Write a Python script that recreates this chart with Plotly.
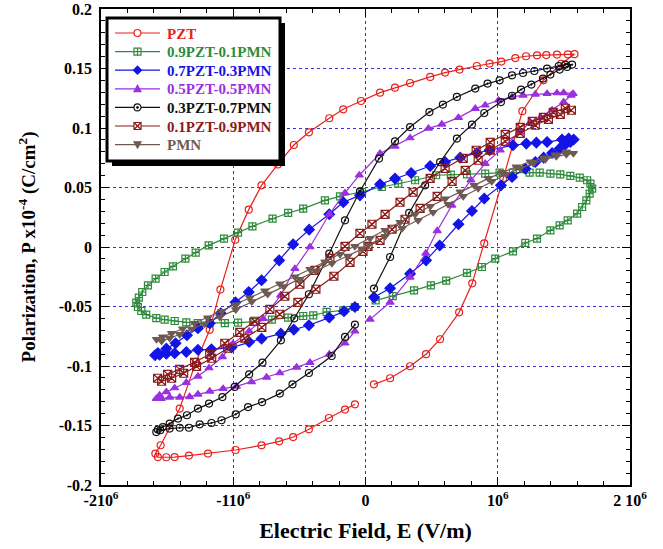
import numpy as np
import plotly.graph_objects as go

# Electric field in units of 1e6 V/m, polarization in (x1e-4 C/cm^2)
pzt_E = [0.064, 0.186, 0.337, 0.458, 0.564, 0.708, 0.807, 0.898, 1.042, 1.186, 1.345, 1.480, 1.580,
         1.530, 1.448, 1.367, 1.297, 1.214, 1.133, 1.027, 0.938, 0.842, 0.711, 0.602, 0.489, 0.337, 0.223,
         0.110, -0.034, -0.168, -0.274, -0.428, -0.542, -0.663, -0.786, -0.883, -0.985, -1.097, -1.178,
         -1.282, -1.405, -1.549, -1.589,
         -1.570, -1.506, -1.443, -1.335, -1.191, -0.983, -0.786, -0.653, -0.547, -0.428, -0.277, -0.155, -0.080]
pzt_P = [-0.1154, -0.1103, -0.1002, -0.0901, -0.0775, -0.0549, -0.0305, 0.0031, 0.0578, 0.1141, 0.1401, 0.1540, 0.1620,
         0.1619, 0.1617, 0.1613, 0.1611, 0.1603, 0.1588, 0.1558, 0.1541, 0.1521, 0.1491, 0.1466, 0.1429, 0.1378, 0.1339,
         0.1297, 0.1227, 0.1157, 0.1082, 0.0964, 0.0857, 0.0694, 0.0518, 0.0314, 0.0061, -0.0358, -0.0696,
         -0.0966, -0.1358, -0.1666, -0.1736,
         -0.1765, -0.1767, -0.1765, -0.1753, -0.1736, -0.1706, -0.1667, -0.1633, -0.1597, -0.1532, -0.1437, -0.1366, -0.1322]

pzt90_E = [0.077, 0.206, 0.367, 0.494, 0.610, 0.767, 0.880, 0.981, 1.115, 1.208, 1.297, 1.398, 1.468, 1.529, 1.600,
           1.638, 1.670, 1.695, 1.714, 1.701, 1.676, 1.620, 1.549, 1.473, 1.398, 1.317, 1.241, 1.115, 1.014, 0.905,
           0.767, 0.645, 0.534, 0.375, 0.248, 0.123, -0.027, -0.193, -0.307, -0.471, -0.585, -0.703, -0.855, -0.964,
           -1.070, -1.186, -1.284, -1.362, -1.456, -1.519, -1.587, -1.645, -1.688, -1.714, -1.733, -1.721, -1.695,
           -1.658, -1.582, -1.519, -1.443, -1.355, -1.269, -1.178, -1.064, -0.964, -0.850, -0.708, -0.585, -0.471,
           -0.395, -0.294, -0.168, -0.080]
pzt90_P = [-0.0448, -0.0412, -0.0364, -0.0322, -0.0282, -0.0218, -0.0168, -0.0097, -0.0036, 0.0034, 0.0071, 0.0140,
           0.0182, 0.0224, 0.0281, 0.0336, 0.0392, 0.0449, 0.0491, 0.0533, 0.0561, 0.0583, 0.0597, 0.0611, 0.0617,
           0.0625, 0.0625, 0.0625, 0.0625, 0.0617, 0.0611, 0.0608, 0.0603, 0.0561, 0.0533, 0.0504, 0.0464, 0.0426,
           0.0392, 0.0323, 0.0286, 0.0239, 0.0174, 0.0121, 0.0071, 0.0014, -0.0047, -0.0097, -0.0162, -0.0210,
           -0.0266, -0.0322, -0.0378, -0.0425, -0.0467, -0.0504, -0.0538, -0.0568, -0.0597, -0.0610, -0.0622,
           -0.0633, -0.0639, -0.0639, -0.0639, -0.0635, -0.0629, -0.0610, -0.0593, -0.0580, -0.0574, -0.0546,
           -0.0532, -0.0504]

pzt70_E = [0.064, 0.186, 0.337, 0.458, 0.561, 0.703, 0.805, 0.898, 1.024, 1.108, 1.208, 1.284, 1.347, 1.411, 1.468,
           1.511, 1.549, 1.574, 1.536, 1.486, 1.373, 1.292, 1.216, 1.115, 0.938, 0.842, 0.716, 0.602, 0.489, 0.345,
           0.223, 0.110, -0.042, -0.168, -0.274, -0.426, -0.547, -0.653, -0.786, -0.883, -0.983, -1.095, -1.178,
           -1.267, -1.350, -1.436, -1.506, -1.570, -1.591,
           -1.557, -1.506, -1.443, -1.355, -1.267, -1.165, -1.014, -0.880, -0.786, -0.640, -0.542, -0.428, -0.274,
           -0.163, -0.080]
pzt70_P = [-0.0423, -0.0347, -0.0225, -0.0112, 0.0012, 0.0191, 0.0303, 0.0407, 0.0518, 0.0588, 0.0659, 0.0714, 0.0751,
           0.0790, 0.0827, 0.0861, 0.0882, 0.0903, 0.0911, 0.0903, 0.0882, 0.0877, 0.0869, 0.0855, 0.0813, 0.0790,
           0.0751, 0.0714, 0.0681, 0.0622, 0.0575, 0.0527, 0.0434, 0.0376, 0.0275, 0.0146, 0.0023, -0.0112, -0.0280,
           -0.0378, -0.0465, -0.0557, -0.0641, -0.0683, -0.0742, -0.0809, -0.0854, -0.0891, -0.0910,
           -0.0906, -0.0897, -0.0893, -0.0882, -0.0864, -0.0860, -0.0845, -0.0798, -0.0770, -0.0728, -0.0694,
           -0.0658, -0.0593, -0.0540, -0.0504]

pzt50_E = [0.034, 0.186, 0.337, 0.456, 0.542, 0.653, 0.797, 0.905, 1.019, 1.165, 1.246, 1.322, 1.411, 1.498, 1.555,
           1.570, 1.498, 1.448, 1.373, 1.284, 1.191, 1.108, 1.006, 0.905, 0.830, 0.703, 0.577, 0.476, 0.337, 0.223,
           0.110, -0.047, -0.155, -0.274, -0.420, -0.534, -0.642, -0.774, -0.880, -1.002, -1.082, -1.183, -1.267,
           -1.355, -1.443, -1.506, -1.557, -1.582,
           -1.544, -1.481, -1.405, -1.330, -1.267, -1.178, -1.077, -0.976, -0.862, -0.748, -0.648, -0.521, -0.420,
           -0.274, -0.155, -0.080]
pzt50_P = [-0.0608, -0.0465, -0.0255, -0.0053, 0.0136, 0.0350, 0.0561, 0.0701, 0.0813, 0.0964, 0.1048, 0.1086, 0.1149,
           0.1218, 0.1275, 0.1289, 0.1296, 0.1294, 0.1289, 0.1283, 0.1275, 0.1261, 0.1233, 0.1191, 0.1163, 0.1087,
           0.1031, 0.0997, 0.0916, 0.0846, 0.0785, 0.0603, 0.0454, 0.0275, 0.0000, -0.0182, -0.0406, -0.0602,
           -0.0708, -0.0812, -0.0924, -0.1017, -0.1087, -0.1139, -0.1185, -0.1218, -0.1246, -0.1274,
           -0.1274, -0.1263, -0.1263, -0.1259, -0.1238, -0.1213, -0.1190, -0.1171, -0.1134, -0.1095, -0.1059,
           -0.1011, -0.0971, -0.0902, -0.0809, -0.0708]

pzt30_E = [0.064, 0.186, 0.330, 0.451, 0.564, 0.691, 0.805, 0.898, 1.024, 1.108, 1.176, 1.254, 1.342, 1.398, 1.468,
           1.524, 1.562, 1.511, 1.461, 1.373, 1.277, 1.191, 1.108, 1.014, 0.923, 0.830, 0.691, 0.585, 0.483, 0.337,
           0.223, 0.102, -0.042, -0.155, -0.274, -0.428, -0.538, -0.640, -0.779, -0.880, -0.989, -1.082, -1.183,
           -1.267, -1.350, -1.418, -1.481, -1.532, -1.570, -1.582,
           -1.552, -1.481, -1.405, -1.335, -1.254, -1.165, -1.089, -0.981, -0.888, -0.782, -0.648, -0.552, -0.428,
           -0.256, -0.155, -0.080]
pzt30_P = [-0.0350, -0.0084, 0.0286, 0.0518, 0.0714, 0.0911, 0.1029, 0.1126, 0.1218, 0.1271, 0.1323, 0.1365, 0.1415,
           0.1449, 0.1491, 0.1513, 0.1533, 0.1533, 0.1521, 0.1499, 0.1479, 0.1462, 0.1443, 0.1401, 0.1373, 0.1331,
           0.1261, 0.1197, 0.1134, 0.1008, 0.0888, 0.0743, 0.0468, 0.0224, -0.0055, -0.0397, -0.0599, -0.0784,
           -0.0971, -0.1070, -0.1176, -0.1261, -0.1316, -0.1358, -0.1414, -0.1442, -0.1484, -0.1513, -0.1534, -0.1555,
           -0.1540, -0.1526, -0.1519, -0.1519, -0.1490, -0.1479, -0.1456, -0.1406, -0.1345, -0.1303, -0.1232,
           -0.1154, -0.1059, -0.0916, -0.0756, -0.0652]

pzt10_E = [0.019, 0.110, 0.201, 0.299, 0.413, 0.542, 0.655, 0.754, 0.852, 0.943, 1.057, 1.170, 1.284, 1.383, 1.473,
           1.557, 1.511, 1.420, 1.345, 1.261, 1.170, 1.057, 0.943, 0.837, 0.739, 0.602, 0.489, 0.360, 0.261, 0.148,
           0.049, -0.042, -0.155, -0.269, -0.383, -0.496, -0.610, -0.723, -0.837, -0.951, -1.064, -1.178, -1.292,
           -1.405, -1.496, -1.572,
           -1.542, -1.466, -1.375, -1.277, -1.163, -1.042, -0.913, -0.784, -0.648, -0.511, -0.375, -0.239, -0.117,
           -0.019]
pzt10_P = [0.0006, 0.0056, 0.0149, 0.0233, 0.0325, 0.0426, 0.0552, 0.0644, 0.0729, 0.0813, 0.0888, 0.0955, 0.1023,
           0.1073, 0.1115, 0.1149, 0.1166, 0.1132, 0.1090, 0.1056, 0.1006, 0.0947, 0.0880, 0.0813, 0.0745, 0.0661,
           0.0577, 0.0460, 0.0376, 0.0275, 0.0191, 0.0115, 0.0006, -0.0095, -0.0196, -0.0313, -0.0414, -0.0524,
           -0.0624, -0.0717, -0.0809, -0.0902, -0.0969, -0.1028, -0.1070, -0.1103,
           -0.1128, -0.1103, -0.1061, -0.1003, -0.0935, -0.0851, -0.0767, -0.0675, -0.0565, -0.0465, -0.0355,
           -0.0246, -0.0129, -0.0036]

pmn_E = [0.019, 0.148, 0.277, 0.398, 0.511, 0.625, 0.739, 0.852, 0.955, 1.064, 1.170, 1.269, 1.360, 1.443, 1.519,
         1.572, 1.519, 1.436, 1.345, 1.246, 1.140, 1.034, 0.928, 0.822, 0.716, 0.602, 0.489, 0.375, 0.261, 0.148,
         0.034, -0.080, -0.193, -0.307, -0.420, -0.534, -0.648, -0.761, -0.875, -0.981, -1.087, -1.193, -1.292,
         -1.383, -1.466, -1.534, -1.580,
         -1.542, -1.481, -1.405, -1.314, -1.216, -1.102, -0.981, -0.860, -0.739, -0.617, -0.496, -0.375, -0.254,
         -0.133, -0.027]
pmn_P = [0.0014, 0.0090, 0.0157, 0.0224, 0.0292, 0.0359, 0.0426, 0.0493, 0.0552, 0.0611, 0.0661, 0.0703, 0.0737,
         0.0762, 0.0779, 0.0787, 0.0800, 0.0775, 0.0750, 0.0716, 0.0674, 0.0628, 0.0577, 0.0518, 0.0464, 0.0405,
         0.0342, 0.0275, 0.0208, 0.0140, 0.0073, 0.0006, -0.0061, -0.0124, -0.0187, -0.0250, -0.0309, -0.0368,
         -0.0427, -0.0486, -0.0540, -0.0595, -0.0641, -0.0687, -0.0725, -0.0755, -0.0776,
         -0.0790, -0.0765, -0.0735, -0.0690, -0.0645, -0.0588, -0.0526, -0.0459, -0.0396, -0.0333, -0.0271,
         -0.0202, -0.0137, -0.0077, -0.0018]

names = ["PZT", "0.9PZT-0.1PMN", "0.7PZT-0.3PMN", "0.5PZT-0.5PMN", "0.3PZT-0.7PMN", "0.1PZT-0.9PMN", "PMN"]

x_tickvals = [-2, -1, 0, 1, 2]
x_ticktext = ["-210<sup>6</sup>", "-110<sup>6</sup>", "0", "10<sup>6</sup>", "2 10<sup>6</sup>"]
y_tickvals = [-0.2, -0.15, -0.1, -0.05, 0, 0.05, 0.1, 0.15, 0.2]
y_ticktext = ["-0.2", "-0.15", "-0.1", "-0.05", "0", "0.05", "0.1", "0.15", "0.2"]

data = [(pzt_E, pzt_P), (pzt90_E, pzt90_P), (pzt70_E, pzt70_P), (pzt50_E, pzt50_P),
        (pzt30_E, pzt30_P), (pzt10_E, pzt10_P), (pmn_E, pmn_P)]
colors = ["#E8211D", "#2E8B3C", "#1414E6", "#9B30E0", "#111111", "#8B1A1A", "#6E5A52"]
symbols = ["circle-open", "square-cross-open", "diamond", "triangle-up", "circle-open-dot", "square-x-open",
           "triangle-down"]
sizes = [7, 7, 8, 7, 7, 8, 7]

FONT = "Liberation Serif"
L, R, T, B = 101, 33, 9, 64
W, H = 663, 549
pw, ph = W - L - R, H - T - B

fig = go.Figure()
for (E, P), name, c, s, sz in zip(data, names, colors, symbols, sizes):
    fig.add_trace(go.Scatter(
        x=np.array(E) * 1e6, y=P, mode="lines+markers", name=name, showlegend=False,
        line=dict(color=c, width=1.2),
        marker=dict(symbol=s, size=sz, color=c, line=dict(color=c, width=1.2)),
    ))


# ---- hand-drawn legend box (pixel layout -> paper coords) ----
def px(x):
    return (x - L) / pw


def py(y):
    return (H - B - y) / ph


shapes = []
annotations = []
lx0, ly0, lx1, ly1 = 107, 18, 280, 161
sh = 5
shapes.append(dict(type="rect", xref="paper", yref="paper", x0=px(lx0 + sh), x1=px(lx1 + sh),
                   y0=py(ly1 + sh), y1=py(ly0 + sh), fillcolor="black", line=dict(width=0), layer="above"))
shapes.append(dict(type="rect", xref="paper", yref="paper", x0=px(lx0), x1=px(lx1),
                   y0=py(ly1), y1=py(ly0), fillcolor="white", line=dict(color="black", width=3), layer="above"))


def path(points, close=True):
    s = "M " + " L ".join(f"{px(a):.5f},{py(b):.5f}" for a, b in points)
    return s + (" Z" if close else "")


def marker_shapes(sym, cx, cy, c, r=3.5):
    out = []
    ln = dict(color=c, width=1.2)
    if sym.startswith("circle"):
        out.append(dict(type="circle", xref="paper", yref="paper", x0=px(cx - r), x1=px(cx + r),
                        y0=py(cy + r), y1=py(cy - r), line=ln, fillcolor="white", layer="above"))
        if sym.endswith("dot"):
            out.append(dict(type="circle", xref="paper", yref="paper", x0=px(cx - 1), x1=px(cx + 1),
                            y0=py(cy + 1), y1=py(cy - 1), line=dict(color=c, width=1), fillcolor=c, layer="above"))
    elif sym.startswith("square"):
        out.append(dict(type="rect", xref="paper", yref="paper", x0=px(cx - r), x1=px(cx + r),
                        y0=py(cy + r), y1=py(cy - r), line=ln, fillcolor="white", layer="above"))
        if "cross" in sym:
            out.append(dict(type="path", xref="paper", yref="paper",
                            path=path([(cx - r, cy), (cx + r, cy)], False), line=ln, layer="above"))
            out.append(dict(type="path", xref="paper", yref="paper",
                            path=path([(cx, cy - r), (cx, cy + r)], False), line=ln, layer="above"))
        else:
            out.append(dict(type="path", xref="paper", yref="paper",
                            path=path([(cx - r, cy - r), (cx + r, cy + r)], False), line=ln, layer="above"))
            out.append(dict(type="path", xref="paper", yref="paper",
                            path=path([(cx - r, cy + r), (cx + r, cy - r)], False), line=ln, layer="above"))
    elif sym == "diamond":
        out.append(dict(type="path", xref="paper", yref="paper",
                        path=path([(cx, cy - r - 0.5), (cx + r + 0.5, cy), (cx, cy + r + 0.5), (cx - r - 0.5, cy)]),
                        line=ln, fillcolor=c, layer="above"))
    elif sym == "triangle-up":
        out.append(dict(type="path", xref="paper", yref="paper",
                        path=path([(cx, cy - r), (cx + r, cy + r * 0.8), (cx - r, cy + r * 0.8)]),
                        line=ln, fillcolor=c, layer="above"))
    elif sym == "triangle-down":
        out.append(dict(type="path", xref="paper", yref="paper",
                        path=path([(cx, cy + r), (cx + r, cy - r * 0.8), (cx - r, cy - r * 0.8)]),
                        line=ln, fillcolor=c, layer="above"))
    return out


row0, drow = 33.0, 18.6
for i, (name, c, s) in enumerate(zip(names, colors, symbols)):
    yc = row0 + i * drow
    shapes.append(dict(type="line", xref="paper", yref="paper", x0=px(115), x1=px(160), y0=py(yc), y1=py(yc),
                       line=dict(color=c, width=1.2), layer="above"))
    shapes += marker_shapes(s, 137.5, yc, c)
    annotations.append(dict(text=name, xref="paper", yref="paper", x=px(165), y=py(yc + 0.5),
                            xanchor="left", yanchor="middle", showarrow=False,
                            font=dict(family=FONT, size=15, color=c, weight="bold")))

axis_common = dict(
    showline=True, linecolor="black", linewidth=1.5, mirror="allticks",
    ticks="inside", ticklen=8, tickwidth=1, tickcolor="black",
    showgrid=True, gridcolor="#3535D5", griddash="dot", gridwidth=1,
    zeroline=False, automargin=False,
    tickfont=dict(family=FONT, size=16, color="black", weight="bold"),
)

fig.update_layout(
    width=W, height=H,
    margin=dict(l=L, r=R, t=T, b=B, autoexpand=False),
    plot_bgcolor="white", paper_bgcolor="white",
    font=dict(family=FONT, color="black"),
    showlegend=False,
    shapes=shapes, annotations=annotations,
    xaxis=dict(range=[-2e6, 2e6], tickvals=[v * 1e6 for v in x_tickvals], ticktext=x_ticktext,
               minor=dict(dtick=2e5, ticks="inside", ticklen=4, tickcolor="black", showgrid=False),
               title=dict(text="Electric Field, E (V/m)", standoff=15,
                          font=dict(family=FONT, size=22, color="black", weight="bold")),
               **axis_common),
    yaxis=dict(range=[-0.2, 0.2], tickvals=y_tickvals, ticktext=y_ticktext, ticklabelstandoff=4,
               minor=dict(dtick=0.01, ticks="inside", ticklen=4, tickcolor="black", showgrid=False),
               title=dict(text="Polarization, P x10<sup>-4</sup> (C/cm<sup>2</sup>)", standoff=18,
                          font=dict(family=FONT, size=19, color="black", weight="bold")),
               **axis_common),
)

fig.write_html("out.html", config={"displayModeBar": False},
               post_script="document.body.style.margin='0';")
